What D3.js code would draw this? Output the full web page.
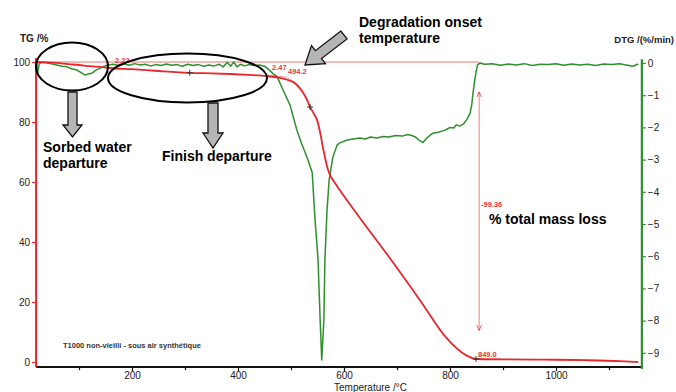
<!DOCTYPE html>
<html>
<head>
<meta charset="utf-8">
<script src="https://cdn.jsdelivr.net/npm/d3@7"></script>
<style>
body{margin:0;background:#fff}
text{font-family:Arial,"Liberation Sans",sans-serif}
.note{font-weight:bold;font-size:14px;fill:#000}
.tick text{font-size:10px;fill:#222}
.val{font-size:7.5px;fill:#e8343a;font-weight:bold}
</style>
</head>
<body>
<svg id="chart" width="676" height="392"></svg>
<script>
// TG curve (mass %)
var tgTemp = [19, 40, 58, 80, 100, 120, 145, 158, 200, 250, 309, 350, 385, 420, 455, 479, 494, 504, 514, 523, 530, 536, 543, 549, 555, 560, 565, 570, 576, 583, 592, 630, 685, 743, 792, 830, 849, 900, 960, 1000, 1057, 1120, 1155];
var tgMass = [100, 99.9, 99.7, 99.3, 99.0, 98.6, 98.3, 98.0, 97.6, 97.0, 96.4, 96.2, 96.0, 95.7, 95.3, 94.7, 94.0, 93.3, 91.8, 89.7, 87.5, 85, 82.8, 80.7, 76.5, 71.7, 67.5, 64, 61.5, 59.7, 57.3, 48, 35, 20.7, 8.3, 2.3, 1.0, 0.9, 0.8, 0.75, 0.6, 0.3, 0.0];

// DTG curve (%/min)
var dtgTemp = [20, 22, 25, 30, 40, 50, 58, 68, 77, 86, 96, 104, 111, 118, 125, 132, 140, 148, 155, 165, 175, 185, 195, 205, 215, 225, 235, 245, 255, 265, 275, 285, 295, 305, 315, 325, 335, 345, 355, 365, 372, 380, 386, 392, 398, 405, 412, 420, 430, 440, 450, 458, 466, 474, 485, 498, 511, 520, 530, 540, 545, 551, 555, 558, 562, 564, 568, 572, 579, 587, 592, 606, 617, 630, 640, 650, 662, 674, 685, 697, 710, 720, 728, 735, 742, 749, 755, 762, 768, 778, 788, 795, 800, 807, 812, 818, 825, 832, 838, 841, 843, 846, 849, 852, 857, 865, 880, 895, 910, 925, 940, 955, 970, 985, 1000, 1015, 1030, 1045, 1060, 1075, 1090, 1105, 1120, 1135, 1145, 1155];
var dtgRate = [0.02, -0.3, -0.02, 0.02, 0.0, -0.03, -0.06, -0.1, -0.12, -0.18, -0.22, -0.3, -0.37, -0.34, -0.31, -0.22, -0.16, -0.1, -0.06, -0.04, -0.08, -0.03, -0.07, -0.02, -0.06, -0.04, -0.09, -0.05, -0.08, -0.03, -0.07, -0.05, -0.1, -0.04, -0.08, -0.05, -0.1, -0.06, -0.09, -0.04, -0.12, 0.02, -0.1, 0.03, -0.12, -0.04, -0.09, -0.05, -0.08, -0.06, -0.1, -0.2, -0.33, -0.43, -0.84, -1.3, -2.08, -2.5, -2.92, -3.4, -4.78, -6.1, -7.98, -9.22, -7.98, -6.1, -4.57, -3.63, -2.92, -2.55, -2.48, -2.39, -2.36, -2.33, -2.36, -2.3, -2.33, -2.28, -2.3, -2.25, -2.27, -2.22, -2.25, -2.3, -2.4, -2.47, -2.35, -2.25, -2.18, -2.15, -2.1, -2.05, -2.0, -2.02, -1.92, -1.96, -1.9, -1.75, -1.55, -1.3, -1.0, -0.6, -0.3, -0.05, 0.0, -0.04, -0.02, -0.07, -0.03, -0.06, -0.02, -0.08, -0.04, -0.05, -0.02, -0.07, -0.03, -0.06, -0.04, -0.08, -0.03, -0.05, -0.02, -0.07, -0.1, -0.03];

var xTicks = [200, 400, 600, 800, 1000];
var xMinor = [100, 300, 500, 700, 900, 1100];
var tgTicks = [0, 20, 40, 60, 80, 100];
var dtgTicks = [0, -1, -2, -3, -4, -5, -6, -7, -8, -9];

var RED = "#e8262b", GREEN = "#2f8f2f", PINK = "#f5a3a3";

var svg = d3.select("#chart");
svg.append("rect").attr("width", 676).attr("height", 392).attr("fill", "#fff");

var x = d3.scaleLinear().domain([200, 1000]).range([132, 556]);
var yTG = d3.scaleLinear().domain([0, 100]).range([362, 62]);
var yDTG = d3.scaleLinear().domain([0, -9]).range([63, 352.8]);

var tMin = 19, tMax = 1162;

// axes
var gx = svg.append("g").attr("transform", "translate(0," + yTG(-1.7) + ")");
gx.call(d3.axisBottom(x).tickValues(xTicks).tickSize(4).tickPadding(1).tickFormat(d3.format("d")));
gx.append("g").call(d3.axisBottom(x).tickValues(xMinor).tickSize(3).tickFormat(""));
gx.selectAll(".domain").remove();
gx.selectAll("line").attr("stroke", "#111").attr("stroke-width", 1.2);
gx.append("line").attr("x1", x(tMin)).attr("x2", x(tMax))
  .attr("stroke", "#111").attr("stroke-width", 2);

var gl = svg.append("g").attr("transform", "translate(" + x(tMin) + ",0)");
gl.call(d3.axisLeft(yTG).tickValues(tgTicks).tickSize(4).tickPadding(2));
gl.selectAll(".domain").remove();
gl.selectAll("line").attr("stroke", RED).attr("stroke-width", 1.2);
gl.append("line").attr("y1", yTG(101.3)).attr("y2", yTG(-1.7))
  .attr("stroke", RED).attr("stroke-width", 2);

var gr = svg.append("g").attr("transform", "translate(" + x(tMax) + ",0)");
gr.append("g").call(d3.axisRight(yDTG).ticks(48).tickSize(2).tickFormat(""));
gr.call(d3.axisRight(yDTG).tickValues(dtgTicks).tickSize(4).tickPadding(2));
gr.selectAll(".domain").remove();
gr.selectAll("line").attr("stroke", GREEN).attr("stroke-width", 1.2);
gr.append("line").attr("y1", yDTG(0.12)).attr("y2", yDTG(-9.5))
  .attr("stroke", GREEN).attr("stroke-width", 2.2);

// axis titles
svg.append("text").attr("x", 20).attr("y", 42).attr("font-size", 10).attr("font-weight", "bold")
  .attr("fill", "#222").text("TG /%");
svg.append("text").attr("x", 674).attr("y", 43).attr("text-anchor", "end").attr("font-size", 9.5)
  .attr("font-weight", "bold").attr("fill", "#222").text("DTG /(%/min)");
svg.append("text").attr("x", 334).attr("y", 390.5).attr("font-size", 10)
  .attr("fill", "#222").text("Temperature /°C");

// pink guide lines
svg.append("line").attr("x1", x(tMin)).attr("x2", x(855))
  .attr("y1", yTG(100)).attr("y2", yTG(100)).attr("stroke", PINK).attr("stroke-width", 1.3);
svg.append("path")
  .attr("d", d3.line()([[x(455), yTG(95.6)], [x(490), yTG(95.0)], [x(510), yTG(93.0)], [x(522), yTG(90.5)]]))
  .attr("fill", "none").attr("stroke", PINK).attr("stroke-width", 1);

var defs = svg.append("defs");
defs.append("marker").attr("id", "pk").attr("viewBox", "0 0 10 10").attr("refX", 9).attr("refY", 5)
  .attr("markerWidth", 6).attr("markerHeight", 8).attr("orient", "auto-start-reverse")
  .append("path").attr("d", "M0,1 L9,5 L0,9").attr("fill", "none").attr("stroke", RED).attr("stroke-width", 1.2);
svg.append("line").attr("x1", x(855)).attr("x2", x(855))
  .attr("y1", yTG(90)).attr("y2", yTG(10.5)).attr("stroke", "#f07b7b").attr("stroke-width", 1)
  .attr("marker-start", "url(#pk)").attr("marker-end", "url(#pk)");

// curves
var lineTG = d3.line().x(function(d){ return x(d[0]); }).y(function(d){ return yTG(d[1]); })
  .curve(d3.curveMonotoneX);
var lineDTG = d3.line().x(function(d){ return x(d[0]); }).y(function(d){ return yDTG(d[1]); });

svg.append("path").datum(dtgTemp.map(function(t, i){ return [t, dtgRate[i]]; }))
  .attr("d", lineDTG).attr("fill", "none").attr("stroke", GREEN).attr("stroke-width", 1.5)
  .attr("stroke-linejoin", "round");
svg.append("path").datum(tgTemp.map(function(t, i){ return [t, tgMass[i]]; }))
  .attr("d", lineTG).attr("fill", "none").attr("stroke", RED).attr("stroke-width", 1.8);

// crosses on TG
var crossT = [309, 536, 849];
var crossV = [96.4, 85, 1.0];
crossT.forEach(function(t, i){
  var cx = x(t), cy = yTG(crossV[i]);
  svg.append("path").attr("d", "M" + (cx - 3) + "," + cy + "h6M" + cx + "," + (cy - 3) + "v6")
    .attr("stroke", "#333").attr("stroke-width", 1);
});

// value labels
svg.append("text").attr("class", "val").attr("x", 115).attr("y", 63).text("2.22");
svg.append("text").attr("class", "val").attr("x", 272).attr("y", 70).text("2.47");
svg.append("text").attr("class", "val").attr("x", 288).attr("y", 74).text("494.2");
svg.append("text").attr("class", "val").attr("x", 481).attr("y", 207).text("-99.36");
svg.append("text").attr("class", "val").attr("x", 478).attr("y", 357).text("849.0");

// ellipses
svg.append("ellipse").attr("cx", 72).attr("cy", 66.5).attr("rx", 36).attr("ry", 24)
  .attr("fill", "none").attr("stroke", "#000").attr("stroke-width", 2);
svg.append("ellipse").attr("cx", 187.5).attr("cy", 78).attr("rx", 79.5).attr("ry", 24.5)
  .attr("fill", "none").attr("stroke", "#000").attr("stroke-width", 2);

// block arrows
var blockArrow = function(x1, y1, x2, y2, w, hw, hl){
  var dx = x2 - x1, dy = y2 - y1, len = Math.sqrt(dx*dx + dy*dy);
  var ux = dx/len, uy = dy/len, nx = -uy, ny = ux;
  var bx = x2 - ux*hl, by = y2 - uy*hl;
  var pts = [
    [x1 + nx*w/2, y1 + ny*w/2], [bx + nx*w/2, by + ny*w/2], [bx + nx*hw/2, by + ny*hw/2],
    [x2, y2],
    [bx - nx*hw/2, by - ny*hw/2], [bx - nx*w/2, by - ny*w/2], [x1 - nx*w/2, y1 - ny*w/2]
  ];
  svg.append("polygon").attr("points", pts.map(function(p){ return p.join(","); }).join(" "))
    .attr("fill", "#b5b5b5").attr("stroke", "#111").attr("stroke-width", 1.3);
};
blockArrow(72.5, 92, 72.5, 137, 9, 19, 12);
blockArrow(213, 103, 213, 148, 10, 20, 15);
blockArrow(344, 35, 305, 65, 10, 23, 17);

// notes
svg.append("text").attr("class", "note").attr("x", 43).attr("y", 152).text("Sorbed water");
svg.append("text").attr("class", "note").attr("x", 43).attr("y", 168).text("departure");
svg.append("text").attr("class", "note").attr("x", 162).attr("y", 161).text("Finish departure");
svg.append("text").attr("class", "note").attr("x", 359).attr("y", 27).text("Degradation onset");
svg.append("text").attr("class", "note").attr("x", 359).attr("y", 43).text("temperature");
svg.append("text").attr("class", "note").attr("x", 489).attr("y", 224).text("% total mass loss");
svg.append("text").attr("x", 63).attr("y", 348).attr("font-size", 7.5).attr("font-weight", "bold")
  .attr("fill", "#333").text("T1000 non-vieilli - sous air synthétique");
</script>
</body>
</html>
